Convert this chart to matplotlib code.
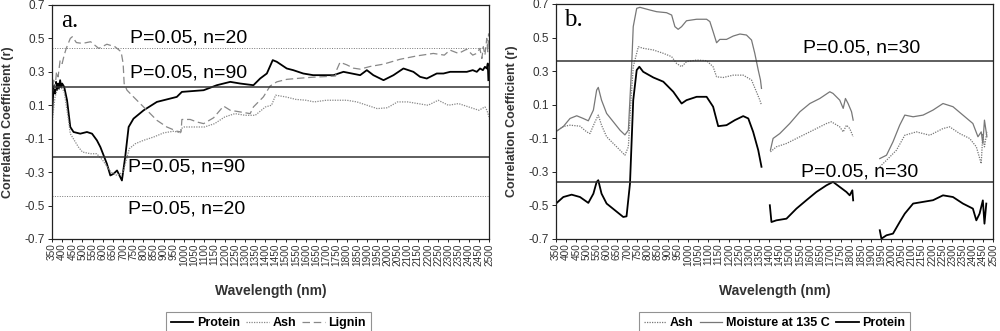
import numpy as np
import matplotlib.pyplot as plt

nan = np.nan

# --- panel a: correlation vs wavelength (n=90 / n=20 thresholds) ---
a_protein_wl = [350, 355, 360, 365, 370, 375, 380, 385, 390, 395, 400, 410, 424, 440, 456, 489, 522, 547,
                571, 588, 620, 637, 653, 670, 686, 694, 710, 727, 751, 801, 866, 964, 989, 1096, 1161,
                1227, 1276, 1341, 1374, 1407, 1436, 1456, 1505, 1537, 1586, 1635, 1685, 1735, 1784, 1866,
                1899, 1931, 1981, 2030, 2079, 2128, 2161, 2194, 2243, 2276, 2309, 2350, 2391, 2420, 2440,
                2456, 2470, 2480, 2489, 2494, 2497]
a_protein_r = [0.02, 0.15, 0.22, 0.17, 0.24, 0.19, 0.23, 0.2, 0.25, 0.21, 0.23, 0.21, 0.13, -0.03, -0.06, -0.07,
               -0.06, -0.07, -0.11, -0.15, -0.25, -0.32, -0.31, -0.29, -0.33, -0.35, -0.21, -0.03, 0.02, 0.07,
               0.12, 0.15, 0.18, 0.19, 0.22, 0.24, 0.23, 0.22, 0.26, 0.29, 0.37, 0.36, 0.32, 0.31, 0.29, 0.28,
               0.28, 0.28, 0.3, 0.28, 0.31, 0.28, 0.25, 0.28, 0.32, 0.3, 0.27, 0.26, 0.29, 0.29, 0.3, 0.3, 0.3,
               0.31, 0.3, 0.32, 0.31, 0.33, 0.32, 0.35, 0.25]

a_ash_wl = [350, 358, 365, 375, 390, 400, 410, 420, 430, 440, 460, 480, 500, 540, 570, 600, 640, 670, 700, 730,
            760, 800, 850, 900, 950, 980, 985, 1000, 1100, 1150, 1200, 1250, 1300, 1350, 1400, 1430, 1450,
            1500, 1550, 1600, 1640, 1700, 1750, 1800, 1850, 1900, 1950, 2000, 2050, 2100, 2150, 2200, 2250,
            2300, 2350, 2400, 2450, 2480, 2490, 2500]
a_ash_r = [-0.02, 0.08, 0.15, 0.19, 0.2, 0.2, 0.18, 0.1, 0.02, -0.07, -0.11, -0.15, -0.18, -0.19, -0.19, -0.23,
           -0.3, -0.32, -0.3, -0.16, -0.13, -0.11, -0.09, -0.065, -0.055, -0.065, -0.04, -0.03, -0.03, -0.01,
           0.03, 0.05, 0.04, 0.04, 0.09, 0.1, 0.16, 0.15, 0.135, 0.13, 0.12, 0.13, 0.13, 0.13, 0.12, 0.1, 0.08,
           0.085, 0.12, 0.12, 0.11, 0.1, 0.13, 0.1, 0.11, 0.09, 0.07, 0.09, 0.07, 0.03]

a_lignin_wl = [350, 358, 365, 372, 380, 390, 400, 410, 420, 440, 450, 470, 500, 540, 580, 620, 660, 690, 700,
               705, 719, 751, 784, 817, 866, 915, 964, 985, 989, 1030, 1063, 1096, 1145, 1194, 1227, 1276,
               1325, 1341, 1390, 1423, 1456, 1505, 1571, 1636, 1702, 1745, 1750, 1767, 1800, 1833, 1866,
               1915, 1981, 2062, 2144, 2226, 2280, 2308, 2350, 2390, 2420, 2439, 2455, 2465, 2472, 2480,
               2489, 2494, 2498]
a_lignin_r = [0.15, 0.25, 0.2, 0.3, 0.27, 0.37, 0.35, 0.4, 0.44, 0.5, 0.51, 0.475, 0.47, 0.48, 0.44, 0.465,
              0.45, 0.42, 0.35, 0.23, 0.19, 0.15, 0.11, 0.07, 0.01, -0.03, -0.055, -0.06, 0.015, 0.015, 0.0,
              -0.01, 0.025, 0.095, 0.07, 0.06, 0.05, 0.09, 0.15, 0.215, 0.24, 0.255, 0.262, 0.268, 0.272, 0.275,
              0.31, 0.357, 0.342, 0.322, 0.316, 0.332, 0.346, 0.375, 0.395, 0.41, 0.4, 0.43, 0.41, 0.435,
              0.4, 0.41, 0.44, 0.38, 0.45, 0.4, 0.5, 0.42, 0.53]

# --- panel b: three spectral segments separated by gaps (nan) ---
b_moist_wl = [350, 386, 419, 452, 484, 509, 534, 550, 558, 574, 599, 632, 665, 689, 706, 722, 730, 747, 763,
              812, 845, 894, 919, 935, 951, 968, 992, 1042, 1091, 1107, 1123, 1140, 1156, 1189, 1222, 1255,
              1287, 1312, 1328, 1345, 1356, 1361, nan,
              1405, 1418, 1451, 1500, 1550, 1599, 1648, 1697, 1713, 1746, 1763, 1774, 1787, 1804, 1812, nan,
              1943, 1976, 2008, 2041, 2066, 2107, 2156, 2205, 2254, 2303, 2352, 2401, 2426, 2442, 2450,
              2458, 2470]
b_moist_r = [-0.06, -0.03, 0.018, 0.034, 0.018, 0.004, 0.068, 0.187, 0.203, 0.127, 0.048, -0.002, -0.052,
             -0.08, -0.052, 0.326, 0.565, 0.674, 0.68, 0.664, 0.654, 0.648, 0.634, 0.565, 0.549, 0.565, 0.6,
             0.609, 0.609, 0.595, 0.535, 0.469, 0.489, 0.489, 0.509, 0.521, 0.515, 0.485, 0.406, 0.306,
             0.247, 0.197, nan,
             -0.171, -0.101, -0.072, -0.012, 0.058, 0.107, 0.137, 0.177, 0.167, 0.127, 0.078, 0.137, 0.107,
             0.058, 0.008, nan,
             -0.221, -0.201, -0.121, -0.022, 0.038, 0.028, 0.038, 0.068, 0.107, 0.088, 0.038, -0.012, -0.091,
             -0.062, -0.131, 0.008, -0.091]

b_ash_wl = [350, 386, 419, 468, 501, 517, 542, 558, 574, 599, 632, 665, 689, 706, 719, 730, 755, 779, 829,
            878, 919, 943, 968, 992, 1042, 1091, 1123, 1140, 1173, 1222, 1271, 1312, 1336, 1353, 1361, nan,
            1405, 1434, 1484, 1550, 1615, 1681, 1705, 1746, 1763, 1779, 1795, 1812, nan,
            1943, 1976, 2025, 2066, 2123, 2189, 2254, 2287, 2336, 2385, 2418, 2442, 2450, 2458, 2470]
b_ash_r = [-0.06, -0.03, -0.022, -0.028, -0.062, -0.072, -0.002, 0.038, -0.022, -0.091, -0.131, -0.171,
           -0.201, -0.151, 0.127, 0.326, 0.445, 0.436, 0.426, 0.406, 0.386, 0.346, 0.326, 0.356, 0.366, 0.362,
           0.326, 0.266, 0.262, 0.276, 0.276, 0.247, 0.177, 0.127, 0.097, nan,
           -0.181, -0.151, -0.131, -0.091, -0.052, -0.012, -0.002, -0.032, -0.062, -0.022, -0.042, -0.091, nan,
           -0.27, -0.231, -0.171, -0.082, -0.062, -0.082, -0.042, -0.032, -0.072, -0.101, -0.151, -0.251,
           -0.072, -0.151, -0.062]

b_protein_wl = [350, 386, 427, 468, 509, 534, 550, 558, 574, 599, 640, 681, 697, 714, 730, 747, 760, 779, 829,
                878, 927, 968, 992, 1042, 1091, 1123, 1148, 1189, 1230, 1271, 1296, 1320, 1345, 1361, nan,
                1402, 1410, 1434, 1484, 1533, 1582, 1631, 1681, 1713, 1746, 1779, 1795, 1808, 1812, nan,
                1943, 1951, 1976, 2008, 2041, 2066, 2107, 2156, 2205, 2254, 2303, 2352, 2401, 2418, 2434,
                2450, 2458, 2467]
b_protein_r = [-0.489, -0.45, -0.436, -0.45, -0.485, -0.43, -0.36, -0.35, -0.43, -0.489, -0.529, -0.569,
               -0.565, -0.37, 0.127, 0.306, 0.326, 0.296, 0.262, 0.237, 0.177, 0.107, 0.127, 0.147, 0.147,
               0.088, -0.028, -0.022, 0.008, 0.032, 0.018, -0.062, -0.171, -0.27, nan,
               -0.499, -0.599, -0.589, -0.579, -0.519, -0.469, -0.42, -0.38, -0.36, -0.39, -0.42, -0.44, -0.41,
               -0.47, nan,
               -0.648, -0.698, -0.678, -0.668, -0.599, -0.549, -0.489, -0.479, -0.469, -0.44, -0.45, -0.489,
               -0.519, -0.589, -0.549, -0.47, -0.609, -0.489]

xticks = list(range(350, 2501, 50))
yticks = [-0.7, -0.5, -0.3, -0.1, 0.1, 0.3, 0.5, 0.7]

plt.rcParams['font.family'] = ['Liberation Sans', 'DejaVu Sans']

fig = plt.figure(figsize=(10, 3.31), dpi=100)
ax_a = fig.add_axes([0.052, 0.278, 0.437, 0.707])
ax_b = fig.add_axes([0.556, 0.278, 0.437, 0.710])


def style_axes(ax):
    ax.set_xlim(350, 2500)
    ax.set_ylim(-0.7, 0.7)
    ax.set_xticks(xticks)
    ax.set_xticklabels([str(t) for t in xticks], rotation=90, fontsize=7.2, color='#333333')
    ax.set_yticks(yticks)
    ax.set_yticklabels(['%.1f' % t for t in yticks], fontsize=8.5, color='#333333')
    ax.tick_params(axis='x', length=2, width=0.6, pad=1)
    ax.tick_params(axis='y', length=3, width=0.6, pad=2)
    for s in ax.spines.values():
        s.set_linewidth(0.9)
        s.set_color('#222222')
    ax.set_ylabel('Correlation Coefficient (r)', fontsize=9, fontweight='bold', color='#333333')
    ax.yaxis.set_label_coords(-0.1, 0.5)
    ax.yaxis.label.set_va('center')
    ax.set_xlabel('Wavelength (nm)', fontsize=10, fontweight='bold', color='#333333')
    ax.xaxis.set_label_coords(0.5, -0.222)
    ax.xaxis.label.set_va('center')


def add_legend(ax, xc):
    leg = ax.legend(loc='upper center', bbox_to_anchor=(xc, -0.285), ncol=3, frameon=True, fancybox=False,
                    edgecolor='#777777', borderpad=0.4, handlelength=1.8, handletextpad=0.3,
                    columnspacing=0.5, prop={'weight': 'bold', 'size': 9})
    leg.get_frame().set_linewidth(0.8)


# panel a
ax_a.plot(a_protein_wl, a_protein_r, color='black', lw=1.3, label='Protein')
ax_a.plot(a_ash_wl, a_ash_r, color='#888888', lw=0.9, ls=(0, (1, 1)), label='Ash')
ax_a.plot(a_lignin_wl, a_lignin_r, color='#888888', lw=0.9, ls=(0, (6, 3)), label='Lignin')
for v in (0.21, -0.21):
    ax_a.axhline(v, color='#333333', lw=1.1)
for v in (0.444, -0.444):
    ax_a.axhline(v, color='#777777', lw=0.7, ls=(0, (1, 1.5)))
style_axes(ax_a)
lab = dict(fontsize=14, color='black', va='center', ha='left')
ax_a.text(735, 0.50, 'P=0.05, n=20', **lab)
ax_a.text(735, 0.293, 'P=0.05, n=90', **lab)
ax_a.text(725, -0.27, 'P=0.05, n=90', **lab)
ax_a.text(725, -0.52, 'P=0.05, n=20', **lab)
ax_a.text(0.022, 0.93, 'a.', transform=ax_a.transAxes, fontsize=18, family='Liberation Serif',
          va='center', ha='left')
add_legend(ax_a, 0.495)

# panel b
ax_b.plot(b_ash_wl, b_ash_r, color='#777777', lw=0.9, ls=(0, (1, 1)), label='Ash')
ax_b.plot(b_moist_wl, b_moist_r, color='#777777', lw=0.9, label='Moisture at 135 C')
ax_b.plot(b_protein_wl, b_protein_r, color='black', lw=1.3, label='Protein')
for v in (0.361, -0.361):
    ax_b.axhline(v, color='#333333', lw=1.1)
style_axes(ax_b)
ax_b.text(1565, 0.44, 'P=0.05, n=30', **lab)
ax_b.text(1555, -0.30, 'P=0.05, n=30', **lab)
ax_b.text(0.018, 0.93, 'b.', transform=ax_b.transAxes, fontsize=18, family='Liberation Serif',
          va='center', ha='left')
add_legend(ax_b, 0.5)

fig.savefig('out.png', dpi=100)
